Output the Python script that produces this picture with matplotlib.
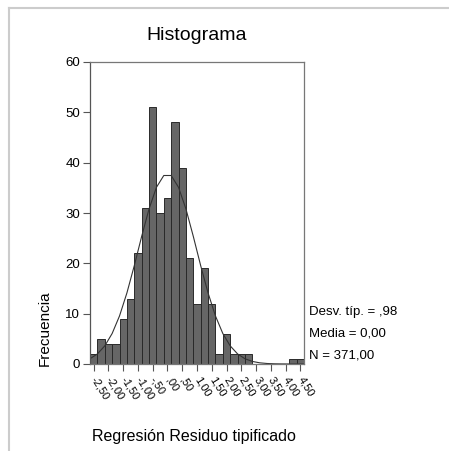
import numpy as np
import matplotlib.pyplot as plt
from matplotlib.lines import Line2D

plt.rcParams['font.family'] = ['Liberation Sans', 'DejaVu Sans']

# bin centres (standardised residual) and counts per bin
bin_centers = [-2.50, -2.25, -2.00, -1.75, -1.50, -1.25, -1.00, -0.75, -0.50, -0.25,
               0.00, 0.25, 0.50, 0.75, 1.00, 1.25, 1.50, 1.75, 2.00, 2.25,
               2.50, 2.75, 3.00, 3.25, 3.50, 3.75, 4.00, 4.25, 4.50]
counts = [2, 5, 4, 4, 9, 13, 22, 31, 51, 30,
          33, 48, 39, 21, 12, 19, 12, 2, 6, 2,
          2, 2, 0, 0, 0, 0, 0, 1, 1]
tick_vals = [-2.5, -2.0, -1.5, -1.0, -0.5, 0.0, 0.5, 1.0, 1.5, 2.0, 2.5, 3.0, 3.5, 4.0, 4.5]
tick_labels = ['-2,50', '-2,00', '-1,50', '-1,00', '-,50', ',00', ',50', '1,00',
               '1,50', '2,00', '2,50', '3,00', '3,50', '4,00', '4,50']
y_ticks = [0, 10, 20, 30, 40, 50, 60]

# summary stats shown on the chart
std_dev = 0.98
mean = 0.00
n_obs = 371

bin_w = 0.25
centers = np.array(bin_centers)

fig = plt.figure(figsize=(4.49, 4.51), dpi=100)
ax = fig.add_axes([90/449, 1 - 364/451, 214/449, 302/451])

ax.bar(centers, counts, width=bin_w, color='#666666', edgecolor='#2a2a2a', linewidth=0.7)

# normal curve, evaluated on the bin edges like SPSS does
edges = np.append(centers - bin_w/2, centers[-1] + bin_w/2)
curve = n_obs * bin_w / (std_dev * np.sqrt(2*np.pi)) * np.exp(-0.5*((edges - mean)/std_dev)**2)
ax.plot(edges, curve, color='#333333', linewidth=0.8)

ax.set_xlim(edges[0], edges[-1])
ax.set_ylim(0, 60)
ax.set_yticks(y_ticks)
ax.set_yticklabels([str(v) for v in y_ticks], fontsize=9.5)
ax.set_xticks(tick_vals)
ax.set_xticklabels(tick_labels, fontsize=8, rotation=-58, rotation_mode='anchor',
                   ha='left', va='center')
ax.tick_params(axis='both', direction='out', length=5, width=0.8, color='#555555', pad=2)
ax.tick_params(axis='x', pad=5)
for s in ax.spines.values():
    s.set_color('#777777')
    s.set_linewidth(0.9)
ax.spines['left'].set_color('#555555')

fig.text(197/449, 1 - 36/451, 'Histograma', fontsize=14, ha='center', va='center')
fig.text(45/449, 1 - 328/451, 'Frecuencia', fontsize=11, ha='center', va='center', rotation=90)
fig.text(194/449, 1 - 437/451, 'Regresión Residuo tipificado', fontsize=11.5, ha='center', va='center')

stats = ['Desv. típ. = ,98', 'Media = 0,00', 'N = 371,00']
for i, t in enumerate(stats):
    fig.text(309/449, 1 - (312 + 22*i)/451, t, fontsize=9.5, ha='left', va='center')

# light frame around the picture
fig.add_artist(Line2D([9/449, 9/449], [0, 1 - 8/451], color='#cccccc', linewidth=1.5))
fig.add_artist(Line2D([9/449, 1], [1 - 8/451, 1 - 8/451], color='#cccccc', linewidth=1.5))

fig.savefig('out.png', dpi=100)
